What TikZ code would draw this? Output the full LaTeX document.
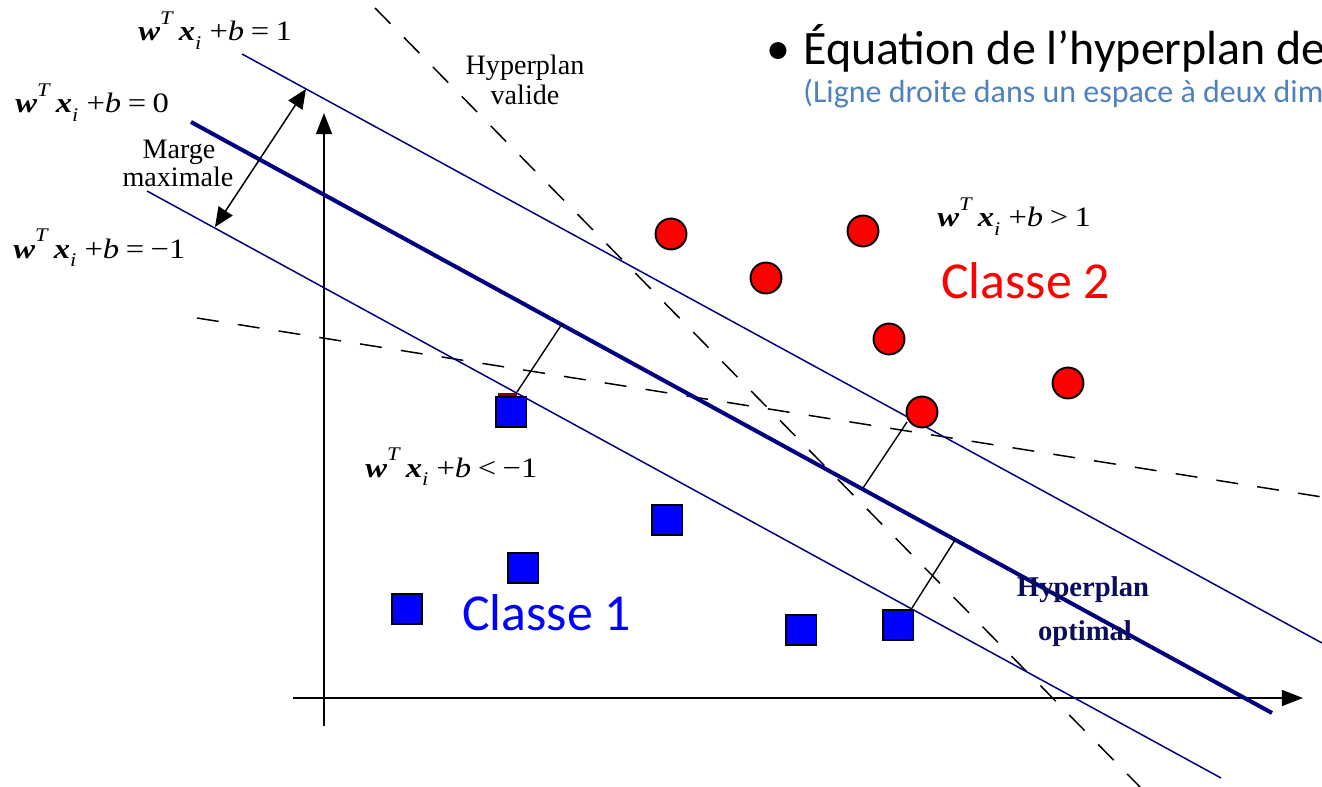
\documentclass[tikz,border=0pt]{standalone}
\usepackage{fontspec}
\usepackage{graphicx}
\setmainfont{Liberation Serif}
\newfontfamily\calibri{Carlito}
\usetikzlibrary{arrows.meta}
\definecolor{navyline}{RGB}{0,0,128}
\definecolor{subblue}{RGB}{79,129,189}
\definecolor{optnavy}{RGB}{12,12,92}
\definecolor{ptred}{RGB}{255,0,0}
\definecolor{ptblue}{RGB}{0,0,255}
\definecolor{darkbit}{RGB}{128,0,0}
\newcommand{\wTx}{\textbf{\textit{w}}\raisebox{0.6em}{\fontsize{11}{12}\selectfont\textit{T}}\hspace{0.15em}\textbf{\textit{x}}\raisebox{-0.3em}{\fontsize{11}{12}\selectfont\textit{i}}\hspace{0.25em}+\textit{b}}
\newcommand{\svmeq}[2]{\scalebox{1.16}[1]{\wTx\hspace{0.2em}#1\hspace{0.2em}#2}}
\begin{document}
\begin{tikzpicture}[x=0.02cm,y=-0.02cm,
  hyp/.style={draw=navyline,line width=0.85pt},
  hypopt/.style={draw=navyline,line width=2.3pt},
  dashline/.style={draw=black,line width=0.85pt,dash pattern=on 12.5pt off 11pt},
  perp/.style={draw=black,line width=0.8pt},
  axisline/.style={draw=black,line width=1.1pt,-{Triangle[length=12pt,width=9pt]}},
  margearrow/.style={draw=black,line width=0.85pt,{Triangle[length=11pt,width=9.5pt]}-{Triangle[length=11pt,width=9.5pt]}},
  cls2/.style={circle,draw=black,line width=1.1pt,fill=ptred,minimum size=17.6pt,inner sep=0pt},
  cls1/.style={rectangle,draw=black,line width=1.1pt,fill=ptblue,minimum size=17.6pt,inner sep=0pt},
  eq/.style={anchor=base west,inner sep=0pt,font=\fontsize{16}{19}\selectfont},
  lbl/.style={anchor=base,inner sep=0pt,font=\fontsize{16}{19}\selectfont},
  optlbl/.style={anchor=base,inner sep=0pt,font=\fontsize{16.3}{19}\selectfont\bfseries,text=optnavy},
  classlbl/.style={anchor=base west,inner sep=0pt,font=\calibri\fontsize{29.5}{34}\selectfont},
 ]
\useasboundingbox (0,0) rectangle (1322,787);
\clip (0,0) rectangle (1322,787);

% hyperplane end points
\coordinate (u1) at (242,54);  \coordinate (u2) at (1322,643);
\coordinate (m1) at (191,122); \coordinate (m2) at (1272,713);
\coordinate (l1) at (147,191); \coordinate (l2) at (1221,778);
\coordinate (d1a) at (375,8);  \coordinate (d1b) at (1140,787);
\coordinate (d2a) at (197,318); \coordinate (d2b) at (1322,497);
% axes
\coordinate (xo) at (293,698); \coordinate (xe) at (1303,698);
\coordinate (yo) at (324,726); \coordinate (ye) at (324,113);
% margin arrow
\coordinate (ma) at (306,89); \coordinate (mb) at (215,227);
% perpendiculars
\coordinate (p1a) at (517,392); \coordinate (p1b) at (562,324);
\coordinate (p2a) at (907,422); \coordinate (p2b) at (863,488);
\coordinate (p3a) at (912,608); \coordinate (p3b) at (955,540);

% axes
\draw[axisline] (xo) -- (xe);
\draw[axisline] (yo) -- (ye);

% dashed hyperplanes
\draw[dashline] (d1a) -- (d1b);
\draw[dashline] (d2a) -- (d2b);

% margin hyperplanes
\draw[hyp] (u1) -- (u2);
\draw[hyp] (l1) -- (l2);
\draw[hypopt] (m1) -- (m2);

% perpendicular distances
\draw[perp] (p1a) -- (p1b);
\draw[perp] (p2a) -- (p2b);
\draw[perp] (p3a) -- (p3b);

% margin arrow
\draw[margearrow] (ma) -- (mb);

% class 1 points
\fill[darkbit] (498,393) rectangle (517,396.5);
\node[cls1] (s1) at (511,412) {};
\node[cls1] (s2) at (667,520) {};
\node[cls1] (s3) at (523,568) {};
\node[cls1] (s4) at (407,609) {};
\node[cls1] (s5) at (801,630) {};
\node[cls1] (s6) at (898,625) {};

% class 2 points
\node[cls2] (c1) at (671,234) {};
\node[cls2] (c2) at (863,231) {};
\node[cls2] (c3) at (766,278) {};
\node[cls2] (c4) at (889,339) {};
\node[cls2] (c5) at (1068,383) {};
\node[cls2] (c6) at (922,412) {};

% equations
\node[eq] (e1) at (138,41) {\svmeq{=}{1}};
\node[eq] (e0) at (15,113) {\svmeq{=}{0}};
\node[eq] (em1) at (13,258) {\svmeq{=}{−1}};
\node[eq] (egt) at (937,227) {\svmeq{>}{1}};
\node[eq] (elt) at (365,477) {\svmeq{<}{−1}};

% labels
\node[lbl] (marge1) at (179,159) {Marge};
\node[lbl] (marge2) at (178,187) {maximale};
\node[lbl] (valide1) at (525,75) {Hyperplan};
\node[lbl] (valide2) at (525,105) {valide};
\node[optlbl] (opt1) at (1083,596) {Hyperplan};
\node[optlbl] (opt2) at (1085,640) {optimal};
\node[classlbl,text=ptred] (classe2) at (941,298) {Classe 2};
\node[classlbl,text=ptblue] (classe1) at (462,630) {Classe 1};

% title (cut off at the right edge, as in the reference)
\node[anchor=base west,inner sep=0pt,font=\calibri\fontsize{27.3}{32}\selectfont] (title) at (766,65) {\makebox[0.74cm][l]{•}Équation de l’hyperplan de};
\node[anchor=base west,inner sep=0pt,font=\calibri\fontsize{18.2}{22}\selectfont,text=subblue] (subtitle) at (803,103) {(Ligne droite dans un espace à deux dim};
\end{tikzpicture}
\end{document}
